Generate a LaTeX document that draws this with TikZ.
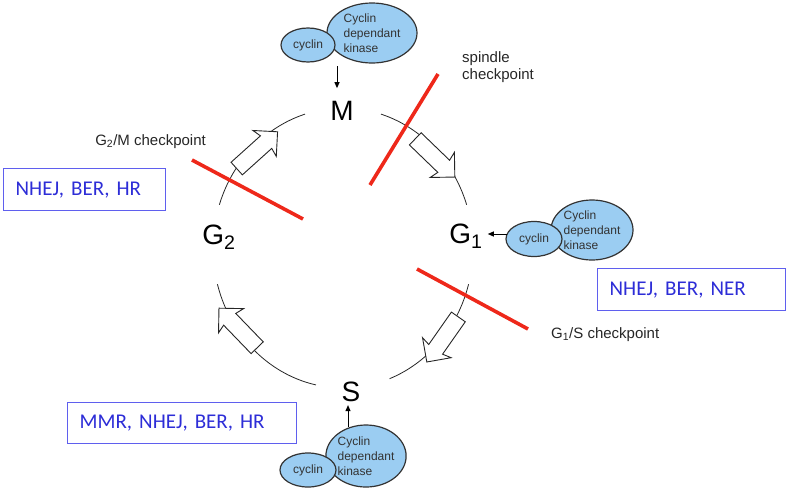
\documentclass[tikz,border=0pt]{standalone}
\usepackage{fontspec}
\setmainfont{Liberation Sans}
\newfontfamily\calibri{Carlito}
\usetikzlibrary{shapes.arrows,shapes.geometric,arrows.meta}

\definecolor{blobblue}{RGB}{155,205,242}
\definecolor{chkred}{RGB}{238,40,26}
\definecolor{repblue}{RGB}{45,45,215}
\definecolor{boxblue}{RGB}{95,95,238}

\tikzset{
  phase/.style={font=\fontsize{28}{30}\selectfont, inner sep=2pt},
  cyclearc/.style={black!85, line width=0.8pt},
  blockarrow/.style={single arrow, draw=black!85, line width=0.9pt, fill=white,
    minimum height=55pt, single arrow head extend=9pt,
    single arrow head indent=2pt, inner xsep=0pt, inner ysep=8pt},
  checkline/.style={chkred, line width=3.6pt, line cap=butt},
  checklabel/.style={font=\fontsize{15}{17}\selectfont, text=black!85, inner sep=0pt, align=left},
  cdk/.style={ellipse, draw=black!80, line width=1.2pt, fill=blobblue, inner sep=0pt,
    align=left, text=black!80, font=\fontsize{12}{15}\selectfont},
  cyc/.style={cdk},
  tip/.style={-{Triangle[length=6pt,width=5pt]}, line width=1pt},
  repbox/.style={draw=boxblue, line width=1.3pt, text=repblue, anchor=north west,
    font=\calibri\fontsize{21}{23}\selectfont, align=left, inner xsep=12pt}
}

\begin{document}
\frenchspacing
\begin{tikzpicture}[x=1pt, y=-1pt]
\useasboundingbox (0,0) rectangle (787,490);

% phases of the cycle
\node[phase] (M) at (342,111) {M};
\node[phase] (G2) at (219,237) {G\textsubscript{2}};
\node[phase] (G1) at (466,236) {G\textsubscript{1}};
\node[phase] (S) at (351,392) {S};

% the cycle itself
\draw[cyclearc] plot[smooth, samples=20, domain=107:162] ({343+130*cos(\x)},{248-140*sin(\x)});
\draw[cyclearc] plot[smooth, samples=20, domain=18:73] ({343+130*cos(\x)},{248-140*sin(\x)});
\draw[cyclearc] plot[smooth, samples=20, domain=-69:-15] ({343+130*cos(\x)},{248-140*sin(\x)});
\draw[cyclearc] plot[smooth, samples=20, domain=195:258] ({343+130*cos(\x)},{248-140*sin(\x)});

\node[blockarrow, rotate=42] (toM) at (254,153) {};
\node[blockarrow, rotate=-44] (toG1) at (432,155) {};
\node[blockarrow, rotate=-125] (toS) at (445,336) {};
\node[blockarrow, rotate=134] (toG2) at (241,331) {};

% cyclin / kinase complexes
\node[cdk, minimum width=90pt, minimum height=60pt] (cdkM) at (372,33) {Cyclin\\dependant\\kinase};
\node[cyc, minimum width=54pt, minimum height=34pt] (cycM) at (308,45) {cyclin};
\node[cdk, minimum width=82pt, minimum height=60pt] (cdkG1) at (592,230) {Cyclin\\dependant\\kinase};
\node[cyc, minimum width=56pt, minimum height=35pt] (cycG1) at (534,239) {cyclin};
\node[cdk, minimum width=78pt, minimum height=62pt] (cdkS) at (366,456) {Cyclin\\dependant\\kinase};
\node[cyc, minimum width=56pt, minimum height=34pt] (cycS) at (308,470) {cyclin};

\coordinate (mFrom) at (337,66);
\coordinate (gFrom) at (507,234);
\coordinate (sFrom) at (348,427);
\draw[tip, shorten >=11pt] (mFrom) -- (mFrom |- M.north);
\draw[tip, shorten >=3pt] (gFrom) -- (gFrom -| G1.east);
\draw[tip, shorten >=1pt] (sFrom) -- (sFrom |- S.south);

% checkpoints
\draw[checkline] (370,185) -- (438,74);
\draw[checkline] (192,160) -- (303,219);
\draw[checkline] (417,269) -- (528,329);
\node[checklabel, anchor=north west] (spindle) at (462,51) {spindle\\checkpoint};
\node[checklabel, anchor=base east] (g2m) at (206,145) {G\textsubscript{2}/M checkpoint};
\node[checklabel, anchor=base west] (g1s) at (551,338) {G\textsubscript{1}/S checkpoint};

% repair pathways
\node[repbox, text width=138pt, minimum height=42pt] (repG2) at (3,168) {NHEJ, BER, HR};
\node[repbox, text width=164pt, minimum height=42pt] (repG1) at (597,268) {NHEJ, BER, NER};
\node[repbox, text width=205pt, minimum height=41pt] (repS) at (67,402) {MMR, NHEJ, BER, HR};
\end{tikzpicture}
\end{document}
